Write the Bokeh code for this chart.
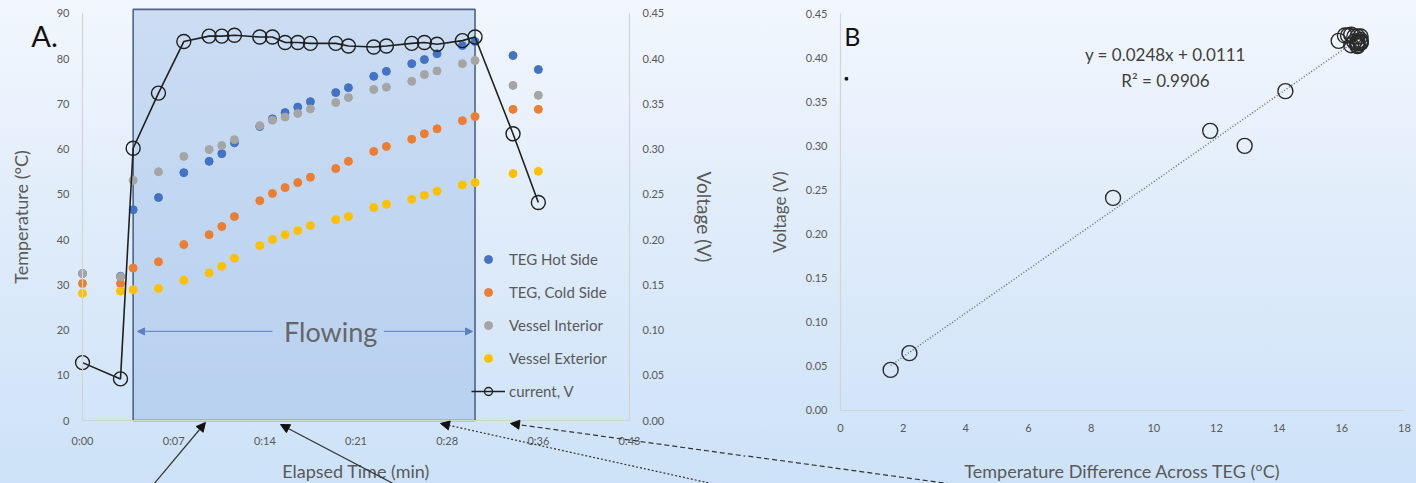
from bokeh.plotting import figure
from bokeh.layouts import row
from bokeh.models import (Range1d, LinearAxis, FixedTicker, Legend, LegendItem, Label,
                          Arrow, NormalHead, NumeralTickFormatter, ColumnDataSource)
from bokeh.embed import file_html
from bokeh.resources import INLINE

FONT = "Lato"
GREY_TXT = "#595959"

# ---------------- Panel A data ----------------
time_min = [0, 3, 4, 6, 8, 10, 11, 12, 14, 15, 16, 17, 18, 20, 21, 23, 24, 26, 27, 28, 30, 31, 34, 36]
teg_hot = [32.5, 31.9, 46.6, 49.3, 54.8, 57.3, 59.0, 61.4, 65.0, 66.7, 68.1, 69.3, 70.5, 72.5, 73.6, 76.1,
           77.2, 78.9, 79.8, 81.1, 82.9, 83.8, 80.7, 77.6]
teg_cold = [30.3, 30.3, 33.7, 35.1, 38.9, 41.1, 42.9, 45.1, 48.6, 50.2, 51.5, 52.6, 53.8, 55.7, 57.3, 59.5,
            60.6, 62.2, 63.4, 64.5, 66.3, 67.2, 68.8, 68.8]
vessel_interior = [32.5, 31.8, 53.1, 55.0, 58.4, 59.9, 60.8, 62.1, 65.2, 66.4, 67.1, 67.9, 68.9, 70.3, 71.4,
                   73.2, 73.7, 75.0, 76.5, 77.3, 78.9, 79.6, 74.1, 71.9]
vessel_exterior = [28.1, 28.6, 28.9, 29.2, 31.0, 32.6, 34.1, 35.9, 38.7, 40.0, 41.1, 42.0, 43.1, 44.4, 45.1,
                   47.1, 47.8, 48.9, 49.8, 50.7, 52.1, 52.6, 54.6, 55.1]
current_v = [0.064, 0.046, 0.301, 0.362, 0.419, 0.425, 0.425, 0.426, 0.424, 0.424, 0.418, 0.418, 0.417,
             0.417, 0.414, 0.413, 0.414, 0.417, 0.418, 0.416, 0.420, 0.424, 0.317, 0.241]

time_ticks = [0, 7.2, 14.4, 21.6, 28.8, 36.0, 43.2]
time_tick_labels = ["0:00", "0:07", "0:14", "0:21", "0:28", "0:36", "0:43"]
temp_ticks = [0, 10, 20, 30, 40, 50, 60, 70, 80, 90]
volt_ticks = [0, 0.05, 0.10, 0.15, 0.20, 0.25, 0.30, 0.35, 0.40, 0.45]

flow_start, flow_end = 4, 31

# ---------------- Panel B data ----------------
delta_t = [2.2, 1.6, 12.9, 14.2, 15.9, 16.2, 16.1, 16.3, 16.4, 16.5, 16.5, 16.6, 16.6, 16.6, 16.3, 16.5,
           16.5, 16.6, 16.4, 16.5, 16.6, 16.6, 11.8, 8.7]
voltage_b = [0.065, 0.046, 0.300, 0.362, 0.419, 0.425, 0.425, 0.426, 0.424, 0.424, 0.418, 0.418, 0.417,
             0.417, 0.414, 0.413, 0.414, 0.417, 0.418, 0.416, 0.420, 0.424, 0.317, 0.241]
trend_x = [1.6, 16.6]
trend_y = [0.051, 0.423]
stray_x = [0.19]
stray_y = [0.376]
dt_ticks = [0, 2, 4, 6, 8, 10, 12, 14, 16, 18]

# annotation arrows (pointer arrows at the bottom of the figure)
arrowsA = [  # x_start, y_start, x_end, y_end, dash
    (5.2, -15.5, 9.71, -0.44, "solid"),
    (25.6, -15.5, 15.64, -0.88, "solid"),
    (52.2, -15.5, 28.27, -0.66, "2 2"),
    (72.0, -15.5, 33.8, -0.66, "5 3"),
]


def style_axis(ax, label_size, tick_std, label_std):
    ax.axis_line_color = "#d4d4d4"
    ax.axis_line_width = 1.2
    ax.major_tick_line_color = None
    ax.minor_tick_line_color = None
    ax.major_tick_out = 0
    ax.major_tick_in = 0
    ax.major_label_standoff = tick_std
    ax.major_label_text_font = FONT
    ax.major_label_text_font_size = "11px"
    ax.major_label_text_color = GREY_TXT
    ax.axis_label_text_font = FONT
    ax.axis_label_text_font_size = label_size
    ax.axis_label_text_color = GREY_TXT
    ax.axis_label_text_font_style = "normal"
    ax.axis_label_standoff = label_std


# ================= Figure A =================
pA = figure(width=745, height=483, output_backend="svg", toolbar_location=None,
            x_range=Range1d(-6.476, 52.36), y_range=Range1d(-13.93, 92.87),
            x_axis_type=None, y_axis_type=None, min_border=0)
pA.extra_y_ranges = {"volt": Range1d(-0.06965, 0.46437)}
pA.background_fill_alpha = 0
pA.border_fill_alpha = 0
pA.outline_line_color = None

xA = LinearAxis(fixed_location=0, bounds=(0, 43.2), ticker=FixedTicker(ticks=time_ticks),
                major_label_overrides=dict(zip(time_ticks, time_tick_labels)),
                axis_label="Elapsed Time (min)")
style_axis(xA, "18px", 13, 10)
pA.add_layout(xA, "below")

yA = LinearAxis(fixed_location=0, bounds=(0, 90), ticker=FixedTicker(ticks=temp_ticks),
                axis_label="Temperature (°C)")
style_axis(yA, "18px", 13, 22)
pA.add_layout(yA, "left")

yV = LinearAxis(y_range_name="volt", fixed_location=43.2, bounds=(0, 0.45),
                ticker=FixedTicker(ticks=volt_ticks), formatter=NumeralTickFormatter(format="0.00"),
                axis_label="Voltage (V)")
style_axis(yV, "19px", 13, 26)
pA.add_layout(yV, "right")

# flowing box
pA.quad(left=[flow_start], right=[flow_end], bottom=[0], top=[90.9],
        fill_color="#8fb3e3", fill_alpha=0.38, line_color="#4f6585", line_width=1.6)

srcA = ColumnDataSource(dict(t=time_min, hot=teg_hot, cold=teg_cold, vin=vessel_interior,
                             vex=vessel_exterior, v=current_v))
r_hot = pA.scatter("t", "hot", source=srcA, size=8, color="#4472c4")
r_cold = pA.scatter("t", "cold", source=srcA, size=8, color="#ed7d31")
r_in = pA.scatter("t", "vin", source=srcA, size=8, color="#a5a5a5")
r_ex = pA.scatter("t", "vex", source=srcA, size=8, color="#ffc000")
r_vl = pA.line("t", "v", source=srcA, y_range_name="volt", line_color="#1f1f1f", line_width=1.6)
r_vc = pA.scatter("t", "v", source=srcA, y_range_name="volt", size=14, fill_color=None,
                  line_color="#1f1f1f", line_width=1.4)

legend = Legend(items=[LegendItem(label="TEG Hot Side", renderers=[r_hot]),
                       LegendItem(label="TEG, Cold Side", renderers=[r_cold]),
                       LegendItem(label="Vessel Interior", renderers=[r_in]),
                       LegendItem(label="Vessel Exterior", renderers=[r_ex]),
                       LegendItem(label="current, V", renderers=[r_vl, r_vc])],
                location=(471, 82), padding=0, margin=0, spacing=13, glyph_height=20, glyph_width=34,
                label_height=20, label_standoff=4, background_fill_alpha=0, border_line_color=None,
                label_text_font=FONT, label_text_font_size="15px", label_text_color=GREY_TXT)
pA.add_layout(legend)

# "Flowing" annotation
pA.add_layout(Label(x=19.6, y=19.6, text="Flowing", text_font=FONT, text_font_size="27px",
                    text_color="#666666", text_align="center", text_baseline="middle"))
pA.add_layout(Arrow(end=NormalHead(size=7, fill_color="#5b7fbf", line_color="#5b7fbf"),
                    x_start=15.0, y_start=19.7, x_end=4.35, y_end=19.7, line_color="#6f8fc4", line_width=1.1))
pA.add_layout(Arrow(end=NormalHead(size=7, fill_color="#5b7fbf", line_color="#5b7fbf"),
                    x_start=23.8, y_start=19.7, x_end=30.8, y_end=19.7, line_color="#6f8fc4", line_width=1.1))

pA.add_layout(Label(x=-3.0, y=85.1, text="A.", text_font=FONT, text_font_size="29px",
                    text_color="#111111", text_align="center", text_baseline="middle"))

for xs, ys, xe, ye, dash in arrowsA:
    pA.add_layout(Arrow(end=NormalHead(size=9, fill_color="#111111", line_color="#111111"),
                        x_start=xs, y_start=ys, x_end=xe, y_end=ye,
                        line_color="#333333", line_width=1.2, line_dash=dash))

# ================= Figure B =================
pB = figure(width=671, height=483, output_backend="svg", toolbar_location=None,
            x_range=Range1d(-3.032, 18.385), y_range=Range1d(-0.08275, 0.46475),
            x_axis_type=None, y_axis_type=None, min_border=0)
pB.background_fill_alpha = 0
pB.border_fill_alpha = 0
pB.outline_line_color = None

xB = LinearAxis(fixed_location=0, bounds=(0, 18), ticker=FixedTicker(ticks=dt_ticks),
                axis_label="Temperature Difference Across TEG (°C)")
style_axis(xB, "18px", 14, 24)
pB.add_layout(xB, "below")

yB = LinearAxis(fixed_location=0, bounds=(0, 0.45), ticker=FixedTicker(ticks=volt_ticks),
                formatter=NumeralTickFormatter(format="0.00"), axis_label="Voltage (V)")
style_axis(yB, "17px", 13, 13)
pB.add_layout(yB, "left")

pB.line(trend_x, trend_y, line_color="#5a6f90", line_width=1.5, line_dash="1 2")
pB.scatter(delta_t, voltage_b, size=15, fill_color=None, line_color="#2a2a2a", line_width=1.4)
pB.scatter(stray_x, stray_y, marker="square", size=2.5, color="#111111")

pB.add_layout(Label(x=10.37, y=0.404, text="y = 0.0248x + 0.0111", text_font=FONT, text_font_size="17px",
                    text_color="#404040", text_align="center", text_baseline="middle"))
pB.add_layout(Label(x=10.37, y=0.374, text="R² = 0.9906", text_font=FONT, text_font_size="17px",
                    text_color="#404040", text_align="center", text_baseline="middle"))
pB.add_layout(Label(x=0.38, y=0.424, text="B", text_font=FONT, text_font_size="25px",
                    text_color="#111111", text_align="center", text_baseline="middle"))

# continuation of the long dashed pointer arrow into panel B
pB.line([-10.53, 4.6], [-0.01474, -0.0885], line_color="#333333", line_width=1.2, line_dash="5 3")

layout = row(pA, pB, styles={"background": "linear-gradient(180deg, #f2f7fe 0%, #e0ecfa 45%, #cde2f8 100%)"})

open("out.html", "w").write(file_html(layout, INLINE))
